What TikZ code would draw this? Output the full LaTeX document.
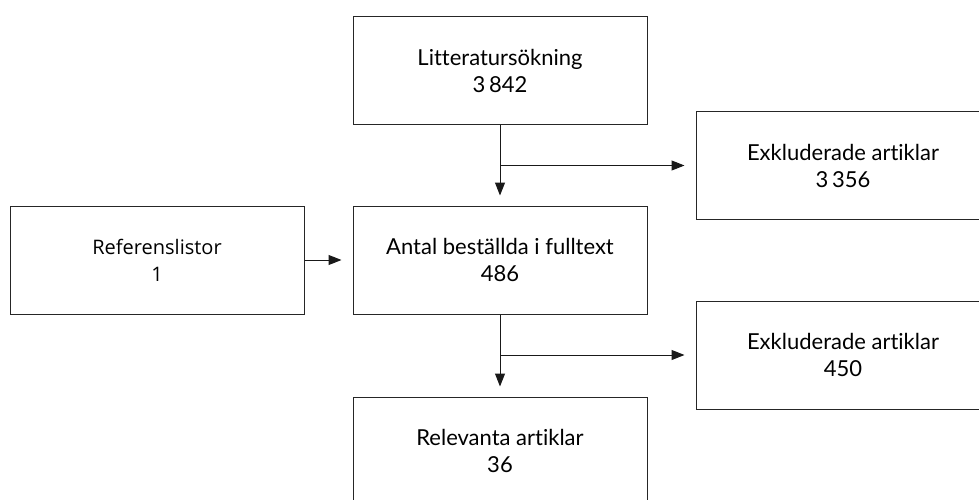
\documentclass[tikz,border=0pt]{standalone}
\usepackage{fontspec}
\setmainfont{Lato}[Ligatures=CommonOff]
\newfontfamily\reffont{Open Sans}
\usetikzlibrary{arrows.meta}
\tikzset{
  flowbox/.style={draw=black!85, line width=1pt, minimum width=294pt, minimum height=108pt,
    align=center, inner sep=0pt, font=\fontsize{22}{27}\selectfont},
  flowarrow/.style={draw=black!90, line width=1pt, -{Triangle[length=13pt,width=10pt]}}
}
\begin{document}
\begin{tikzpicture}[x=1pt, y=-1pt]
  \useasboundingbox (0,0) rectangle (979,500);
  \clip (0,0) rectangle (979,500);
  \fill[white] (0,0) rectangle (979,500);
  \node[flowbox] (lit) at (500,70.5) {Litteraturs\"okning\\3\,842};
  \node[flowbox] (ex1) at (843,165.5) {Exkluderade artiklar\\3\,356};
  \node[flowbox, font=\reffont\fontsize{20}{27}\selectfont] (ref) at (157,260) {Referenslistor\\1};
  \node[flowbox] (ant) at (500,260) {Antal best\"allda i fulltext\\486};
  \node[flowbox] (ex2) at (843,355) {Exkluderade artiklar\\450};
  \node[flowbox] (rel) at (500,451) {Relevanta artiklar\\36};
  \coordinate (b1) at (lit.south |- ex1.west);
  \coordinate (b2) at (ant.south |- ex2.west);
  \draw[flowarrow, shorten >=10pt] (lit.south) -- (ant.north);
  \draw[flowarrow, shorten >=11pt] (b1) -- (ex1.west);
  \draw[flowarrow, shorten >=11pt] (ref.east) -- (ant.west);
  \draw[flowarrow, shorten >=10pt] (ant.south) -- (rel.north);
  \draw[flowarrow, shorten >=11pt] (b2) -- (ex2.west);
\end{tikzpicture}
\end{document}
